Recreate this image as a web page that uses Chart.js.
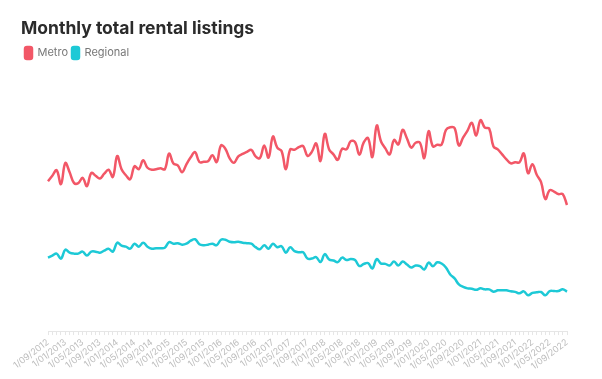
<!DOCTYPE html>
<html>
<head>
<meta charset="utf-8">
<script src="https://cdn.jsdelivr.net/npm/chart.js@4/dist/chart.umd.min.js"></script>
<style>
    body { margin: 0; background: #fff; }
    #wrap { width: 602px; height: 379px; }
</style>
</head>
<body>
<div id="wrap"><canvas id="chart"></canvas></div>
<script>
// Месеци (първо число на месеца), от 09/2012 до 09/2022
const months = [
    '1/09/2012','1/10/2012','1/11/2012','1/12/2012',
    '1/01/2013','1/02/2013','1/03/2013','1/04/2013','1/05/2013','1/06/2013','1/07/2013','1/08/2013','1/09/2013','1/10/2013','1/11/2013','1/12/2013',
    '1/01/2014','1/02/2014','1/03/2014','1/04/2014','1/05/2014','1/06/2014','1/07/2014','1/08/2014','1/09/2014','1/10/2014','1/11/2014','1/12/2014',
    '1/01/2015','1/02/2015','1/03/2015','1/04/2015','1/05/2015','1/06/2015','1/07/2015','1/08/2015','1/09/2015','1/10/2015','1/11/2015','1/12/2015',
    '1/01/2016','1/02/2016','1/03/2016','1/04/2016','1/05/2016','1/06/2016','1/07/2016','1/08/2016','1/09/2016','1/10/2016','1/11/2016','1/12/2016',
    '1/01/2017','1/02/2017','1/03/2017','1/04/2017','1/05/2017','1/06/2017','1/07/2017','1/08/2017','1/09/2017','1/10/2017','1/11/2017','1/12/2017',
    '1/01/2018','1/02/2018','1/03/2018','1/04/2018','1/05/2018','1/06/2018','1/07/2018','1/08/2018','1/09/2018','1/10/2018','1/11/2018','1/12/2018',
    '1/01/2019','1/02/2019','1/03/2019','1/04/2019','1/05/2019','1/06/2019','1/07/2019','1/08/2019','1/09/2019','1/10/2019','1/11/2019','1/12/2019',
    '1/01/2020','1/02/2020','1/03/2020','1/04/2020','1/05/2020','1/06/2020','1/07/2020','1/08/2020','1/09/2020','1/10/2020','1/11/2020','1/12/2020',
    '1/01/2021','1/02/2021','1/03/2021','1/04/2021','1/05/2021','1/06/2021','1/07/2021','1/08/2021','1/09/2021','1/10/2021','1/11/2021','1/12/2021',
    '1/01/2022','1/02/2022','1/03/2022','1/04/2022','1/05/2022','1/06/2022','1/07/2022','1/08/2022','1/09/2022'
];

// Брой обяви - столични райони
const metro = [
    15100, 15650, 16200, 14800,
    16930, 16000, 14930, 14900, 15430, 14600, 15930, 15650, 15370, 15850, 16250, 15530,
    17630, 16300, 15700, 15300, 16600, 16300, 17200, 16450, 16250, 16300, 16400, 16300,
    17870, 16870, 16700, 16000, 16800, 17500, 18030, 17030, 17050, 17100, 17700, 17030,
    18700, 18370, 17400, 16950, 17600, 17850, 18050, 18250, 17600, 17430, 18700, 17470,
    19600, 18470, 18130, 16300, 18300, 18270, 18530, 18630, 17650, 18050, 18900, 17130,
    19870, 18300, 17800, 17250, 18370, 18300, 19130, 19030, 17770, 19000, 19430, 17530,
    20700, 19100, 18400, 17800, 19250, 18800, 20270, 19400, 18470, 18970, 18970, 17430,
    20130, 18600, 18770, 18770, 20250, 20530, 20450, 18700, 19500, 20200, 20970, 19700,
    21250, 20500, 20400, 18600, 18300, 17800, 17300, 16900, 17000, 17000, 17900, 15900,
    16800, 15750, 15000, 13300, 14200, 14050, 13800, 13800, 12700
];

// Брой обяви - регионални райони
const regional = [
    7400, 7600, 7800, 7300,
    8200, 7900, 7800, 7800, 8000, 7600, 8000, 8000, 7900, 8100, 8300, 8000,
    8900, 8600, 8500, 8300, 8800, 8500, 8900, 8500, 8300, 8350, 8350, 8400,
    8950, 8800, 8850, 8700, 8800, 9100, 9250, 8750, 8650, 8700, 8800, 8650,
    9200, 9200, 9000, 8950, 9000, 8900, 8850, 8800, 8450, 8250, 8650, 8300,
    8800, 8450, 8550, 7900, 8450, 8050, 7930, 7930, 7300, 7300, 7450, 6950,
    7750, 7200, 7100, 6950, 7400, 7150, 7250, 7150, 6550, 6750, 6850, 6300,
    7250, 6800, 6770, 6600, 7000, 6600, 7000, 6700, 6400, 6600, 6550, 6200,
    6900, 6530, 6930, 6800, 6400, 5700, 5300, 4700, 4450, 4300, 4270, 4150,
    4300, 4200, 4200, 3970, 4100, 4120, 4100, 4000, 3950, 3800, 4000, 3600,
    3850, 3900, 3930, 3600, 4030, 4030, 4030, 4200, 3970
];

// Етикети по оста X - всеки четвърти месец
const tickEvery = 4;

const font = "'Inter', 'Open Sans', sans-serif";

new Chart(document.getElementById('chart'), {
    type: 'line',
    data: {
        labels: months,
        datasets: [{
            label: 'Metro',
            data: metro,
            borderColor: '#f25767',
            backgroundColor: '#f25767',
            borderWidth: 2.5,
            pointRadius: 0,
            tension: 0.4
        }, {
            label: 'Regional',
            data: regional,
            borderColor: '#1dc9d6',
            backgroundColor: '#1dc9d6',
            borderWidth: 2.5,
            pointRadius: 0,
            tension: 0.4
        }]
    },
    options: {
        responsive: true,
        maintainAspectRatio: false,
        animation: false,
        layout: {
            padding: { left: 21, right: 35, top: 18, bottom: 5 }
        },
        scales: {
            x: {
                grid: {
                    drawOnChartArea: false,
                    color: '#e6e6e6',
                    tickLength: 4
                },
                border: { color: '#e6e6e6' },
                ticks: {
                    autoSkip: false,
                    minRotation: 37,
                    maxRotation: 37,
                    padding: 2,
                    color: '#bdbdbd',
                    font: { family: font, size: 9 },
                    callback: function(value, index) {
                        return index % tickEvery === 0 ? months[index] : '';
                    }
                }
            },
            // Оста Y е скрита, но пази празно място отляво
            y: {
                min: 0,
                max: 26400,
                ticks: { display: false },
                grid: { display: false },
                border: { display: false },
                afterFit: function(scale) {
                    scale.width = 27;
                }
            }
        },
        plugins: {
            title: {
                display: true,
                text: 'Monthly total rental listings',
                align: 'start',
                color: '#2b2b2b',
                font: { family: font, size: 17.5, weight: 'bold' },
                padding: { top: 0, bottom: 4 }
            },
            legend: {
                align: 'start',
                labels: {
                    boxWidth: 7,
                    boxHeight: 12,
                    useBorderRadius: true,
                    borderRadius: 2,
                    padding: 4,
                    color: '#777',
                    font: { family: font, size: 11 }
                }
            },
            tooltip: { enabled: false }
        }
    }
});
</script>
</body>
</html>
